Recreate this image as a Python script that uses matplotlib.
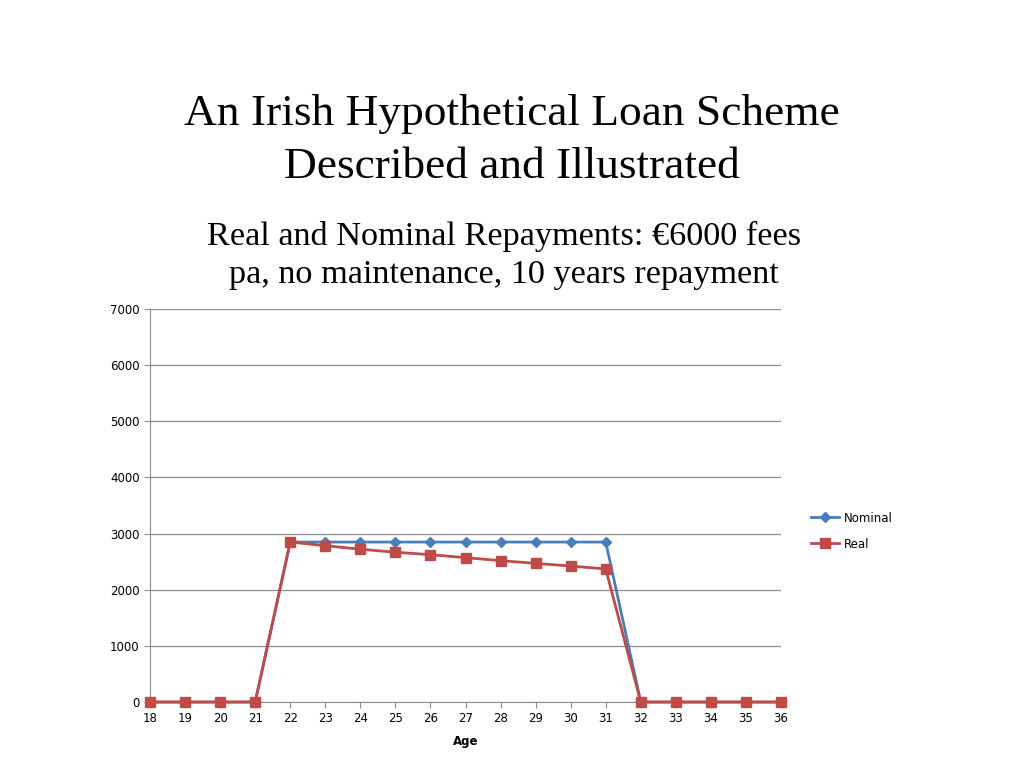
import matplotlib.pyplot as plt

# data
ages = list(range(18, 37))
nominal = [0, 0, 0, 0, 2850, 2850, 2850, 2850, 2850, 2850, 2850, 2850, 2850, 2850, 0, 0, 0, 0, 0]
real = [0, 0, 0, 0, 2850, 2785, 2722, 2668, 2625, 2572, 2518, 2470, 2422, 2370, 0, 0, 0, 0, 0]
y_ticks = [0, 1000, 2000, 3000, 4000, 5000, 6000, 7000]

fig = plt.figure(figsize=(10.24, 7.68), dpi=100)
ax = fig.add_axes([0.1465, 0.0859, 0.6162, 0.5117])

ax.plot(ages, nominal, color='#4a7ebb', lw=2, marker='D', ms=5.5, label='Nominal', clip_on=False, zorder=3)
ax.plot(ages, real, color='#be4b48', lw=2, marker='s', ms=7, label='Real', clip_on=False, zorder=4)

ax.set_xlim(18, 36)
ax.set_ylim(0, 7000)
ax.set_xticks(ages)
ax.set_yticks(y_ticks)
ax.grid(axis='y', color='#8c8c8c', lw=0.9)
ax.set_axisbelow(True)
for s in ['top', 'right']:
    ax.spines[s].set_visible(False)
for s in ['left', 'bottom']:
    ax.spines[s].set_color('#8c8c8c')
ax.tick_params(axis='both', colors='#8c8c8c', labelcolor='black', labelsize=8.5, length=4, direction='out')
ax.set_xlabel('Age', fontsize=8.5, fontweight='bold', labelpad=7)

ax.legend(loc='center left', bbox_to_anchor=(1.03, 0.435), frameon=False, fontsize=8.5,
          handlelength=2.4, handletextpad=0.4, labelspacing=1.1)

fig.text(0.5, 0.817, 'An Irish Hypothetical Loan Scheme\nDescribed and Illustrated',
         ha='center', va='center', family='Liberation Serif', fontsize=32.7, linespacing=1.42)
fig.text(0.492, 0.667, 'Real and Nominal Repayments: €6000 fees\npa, no maintenance, 10 years repayment',
         ha='center', va='center', family='Liberation Serif', fontsize=24.7, linespacing=1.32)

fig.savefig('out.png', dpi=100)
